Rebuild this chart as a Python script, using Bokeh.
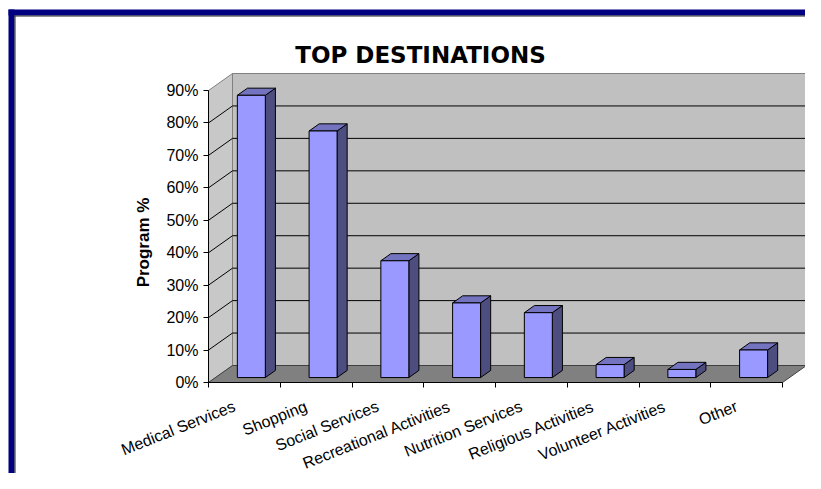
import math
from bokeh.plotting import figure
from bokeh.models import FixedTicker, NumeralTickFormatter, Range1d
from bokeh.core.properties import value
from bokeh.embed import file_html
from bokeh.resources import INLINE

# ---------------- data ----------------
categories = ["Medical Services", "Shopping", "Social Services", "Recreational Activities",
              "Nutrition Services", "Religious Activities", "Volunteer Activities", "Other"]
program_pct = [0.87, 0.76, 0.36, 0.23, 0.20, 0.04, 0.025, 0.085]
y_ticks = [0.0, 0.1, 0.2, 0.3, 0.4, 0.5, 0.6, 0.7, 0.8, 0.9]
title_text = "TOP DESTINATIONS"
y_label_text = "Program %"

# ---------------- layout (canvas pixels) ----------------
W, H = 805, 473
ORIGIN_X, ORIGIN_Y = 208.0, 382.0   # canvas position of (first category edge, 0 %)
CAT_PX = 71.75                      # pixels per category
Y_PX = 292.0 / 0.9                  # pixels per 100 %
DEPTH_X_PX, DEPTH_Y_PX = 24.0, 17.0
BAR_W = 0.39
T0, T1 = 0.29, 0.71                 # bar depth position (front / back)
LABEL_SHIFT_PX = 10.0

n = len(categories)
YMAX = y_ticks[-1]
DX = DEPTH_X_PX / CAT_PX
DY = DEPTH_Y_PX / Y_PX


def X(cx):
    return (cx - ORIGIN_X) / CAT_PX


def Y(cy):
    return (ORIGIN_Y - cy) / Y_PX


p = figure(width=W, height=H, output_backend="svg", toolbar_location=None,
           x_range=Range1d(X(0), X(W)), y_range=Range1d(Y(H), Y(0)),
           min_border=0, min_border_left=0, min_border_right=0,
           min_border_top=0, min_border_bottom=0,
           background_fill_color="white", border_fill_color="white")
p.outline_line_color = None
p.xgrid.visible = False
p.ygrid.visible = False

# ---------------- frame decoration ----------------
deco_l = [X(8), X(8), X(14), X(14)]
deco_r = [X(W), X(14), X(W), X(15)]
deco_t = [Y(9), Y(9), Y(15), Y(15)]
deco_b = [Y(15), Y(H), Y(16), Y(H)]
p.quad(left=deco_l[:2], right=deco_r[:2], top=deco_t[:2], bottom=deco_b[:2],
       fill_color="#000080", line_color=None)
p.quad(left=deco_l[2:], right=deco_r[2:], top=deco_t[2:], bottom=deco_b[2:],
       fill_color="#202020", line_color=None)

# ---------------- 3D walls ----------------
p.patch([0, DX, DX, 0], [0, DY, YMAX + DY, YMAX], fill_color="#C8C8C8",
        line_color="#808080", line_width=1)
p.quad(left=[DX], right=[n + DX], bottom=[DY], top=[YMAX + DY],
       fill_color="#C0C0C0", line_color="#808080", line_width=1)
inner = y_ticks[1:-1]
p.segment(x0=[DX] * len(inner), y0=[v + DY for v in inner],
          x1=[n + DX] * len(inner), y1=[v + DY for v in inner],
          line_color="black", line_width=1)
p.segment(x0=[0] * len(inner), y0=inner, x1=[DX] * len(inner),
          y1=[v + DY for v in inner], line_color="black", line_width=1)
p.patch([0, n, n + DX, DX], [0, 0, DY, DY], fill_color="#808080",
        line_color="#404040", line_width=1)

# ---------------- bars ----------------
dxb = (T1 - T0) * DX
dyb = (T1 - T0) * DY
lefts = [i + 0.5 - BAR_W / 2 + T0 * DX for i in range(n)]
rights = [i + 0.5 + BAR_W / 2 + T0 * DX for i in range(n)]
bottoms = [T0 * DY] * n
tops = [v + T0 * DY for v in program_pct]

side_xs = [[r, r + dxb, r + dxb, r] for r in rights]
side_ys = [[b, b + dyb, t + dyb, t] for b, t in zip(bottoms, tops)]
top_xs = [[l, r, r + dxb, l + dxb] for l, r in zip(lefts, rights)]
top_ys = [[t, t, t + dyb, t + dyb] for t in tops]

p.patches(side_xs, side_ys, fill_color="#4D4D80", line_color="black", line_width=1)
p.patches(top_xs, top_ys, fill_color="#7373BF", line_color="black", line_width=1)
p.quad(left=lefts, right=rights, bottom=bottoms, top=tops,
       fill_color="#9999FF", line_color="black", line_width=1)

# ---------------- axes (fixed inside the frame) ----------------
ya = p.yaxis[0]
ya.fixed_location = 0
ya.ticker = FixedTicker(ticks=y_ticks)
ya.formatter = NumeralTickFormatter(format="0%")
ya.bounds = (0, YMAX)
ya.axis_line_color = "black"
ya.major_tick_out = 5
ya.major_tick_in = 0
ya.minor_tick_out = 0
ya.minor_tick_in = 0
ya.major_label_standoff = 5
ya.major_label_text_font = "Liberation Sans"
ya.major_label_text_font_size = "16px"
ya.major_label_text_color = "black"

tick_pos = [i + 0.5 - LABEL_SHIFT_PX / CAT_PX for i in range(n)]
xa = p.xaxis[0]
xa.fixed_location = 0
xa.ticker = FixedTicker(ticks=tick_pos, minor_ticks=list(range(n + 1)))
xa.major_label_overrides = {t: c for t, c in zip(tick_pos, categories)}
xa.bounds = (0, n)
xa.axis_line_color = "black"
xa.major_tick_out = 0
xa.major_tick_in = 0
xa.minor_tick_out = 5
xa.minor_tick_in = 0
xa.major_label_orientation = 0.38
xa.major_label_standoff = 18
xa.major_label_text_font = "Liberation Sans"
xa.major_label_text_font_size = "16px"
xa.major_label_text_color = "black"

# ---------------- texts ----------------
p.text(x=[X(420)], y=[Y(54)], text=[title_text], text_align="center",
       text_baseline="middle", text_font=value("DejaVu Sans"),
       text_font_style="bold", text_font_size="23px", text_color="black")
p.text(x=[X(143)], y=[Y(242)], text=[y_label_text], angle=math.pi / 2,
       text_align="center", text_baseline="middle",
       text_font=value("Liberation Sans"), text_font_style="bold",
       text_font_size="17px", text_color="black")

with open("out.html", "w") as f:
    f.write(file_html(p, INLINE))
